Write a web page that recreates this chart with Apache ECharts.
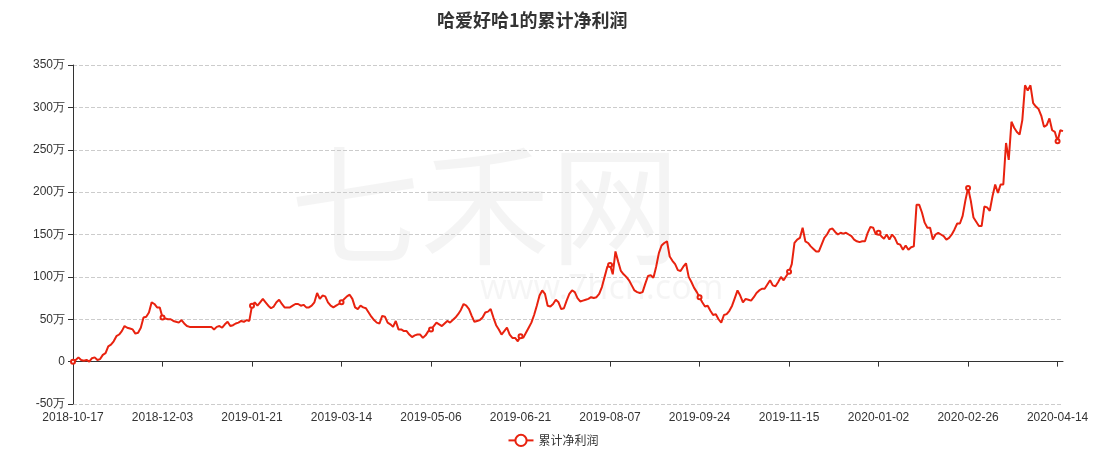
<!DOCTYPE html>
<html><head><meta charset="utf-8">
<script src="https://cdn.jsdelivr.net/npm/echarts@6/dist/echarts.min.js"></script>
<style>html,body{margin:0;padding:0;background:#fff}#c{width:1106px;height:458px}</style>
</head><body><div id="c"></div>
<script>
var startDate = '2018-10-17';
var holidays = ['2018-12-31','2019-01-01','2019-02-04','2019-02-05','2019-02-06','2019-02-07','2019-02-08','2019-04-05','2019-05-01','2019-05-02','2019-05-03','2019-06-07','2019-09-13','2019-10-01','2019-10-02','2019-10-03','2019-10-04','2019-10-07','2020-01-01','2020-01-24','2020-01-27','2020-01-28','2020-01-29','2020-01-30','2020-01-31','2020-04-06'];
var values = [
0,2,5,2,1,2,0,4,5,2,3,8,10,18,20,24,30,32,36,42,40,39,38,33,34,40,52,53,58,70,68,64,64,52,
51,50,50,48,47,46,49,45,42,41,41,41,41,41,41,41,41,41,38,41,42,40,44,47,42,43,45,46,48,47,49,48,66,
70,66,70,74,70,66,63,65,70,73,68,64,64,64,66,68,68,66,67,64,64,66,70,81,74,78,77,70,66,64,66,68,70,
74,77,79,74,64,62,66,64,63,58,53,49,46,45,54,53,46,44,41,48,38,38,36,36,32,29,31,32,32,28,31,36,38,
42,46,44,42,45,48,46,49,52,56,61,68,66,62,54,47,48,49,52,58,59,62,52,43,38,32,36,40,32,28,28,24,30,
28,34,40,46,55,66,78,84,80,66,65,68,73,70,62,63,72,80,84,82,75,71,72,73,74,76,75,76,80,88,100,112,114,
103,130,118,107,103,100,96,90,84,82,81,82,92,101,102,99,112,128,137,140,142,124,119,115,108,107,112,116,100,94,87,82,76,
70,65,66,60,55,56,50,46,55,56,60,66,75,84,78,70,74,73,72,76,81,84,86,86,91,96,90,89,94,100,96,101,106,
115,140,144,146,158,142,140,136,133,130,130,138,146,150,156,157,153,150,152,151,152,150,148,144,142,141,142,142,152,159,158,150,152,
148,145,150,144,150,146,139,138,132,137,132,135,136,185,185,176,164,158,158,144,150,152,150,148,144,146,150,156,163,163,172,190,205,
190,170,165,160,160,183,182,178,195,209,199,209,209,258,238,283,276,271,268,285,326,320,326,305,301,298,290,277,279,287,273,271,260,
273,272
];
function pad(n){return (n<10?'0':'')+n;}
var dates = [];
(function(){
  var d = new Date(startDate+'T00:00:00Z');
  while (dates.length < values.length) {
    var s = d.getUTCFullYear()+'-'+pad(d.getUTCMonth()+1)+'-'+pad(d.getUTCDate());
    var wd = d.getUTCDay();
    if (wd!==0 && wd!==6 && holidays.indexOf(s)<0) dates.push(s);
    d.setUTCDate(d.getUTCDate()+1);
  }
})();
var chart = echarts.init(document.getElementById('c'));
chart.setOption({
  animation:false,
  title:{text:'哈爱好哈1的累计净利润',left:432,top:6,textStyle:{fontSize:18,fontWeight:'bold',color:'#333',fontFamily:'Noto Sans CJK SC'}},
  graphic:[{type:'text',left:290,top:140,style:{text:'七禾网',fontSize:130,fill:'rgba(0,0,0,0.045)',fontFamily:'Noto Sans CJK SC'}},
           {type:'text',left:480,top:272,style:{text:'www.7hcn.com',fontSize:34,fill:'rgba(0,0,0,0.04)',fontFamily:'Noto Sans'}}],
  grid:{left:73,right:43,top:65,bottom:54},
  legend:{bottom:6,data:['累计净利润'],textStyle:{fontSize:12,color:'#333',fontFamily:'Noto Sans CJK SC'},itemWidth:25,itemHeight:14},
  xAxis:{type:'category',data:dates,boundaryGap:false,
    axisLine:{lineStyle:{color:'#333'}},
    axisTick:{show:true,interval:32,alignWithLabel:true},
    axisLabel:{interval:32,color:'#333',fontSize:12}},
  yAxis:{type:'value',min:-50,max:350,interval:50,
    axisLine:{show:true,lineStyle:{color:'#333'}},axisTick:{show:true},
    axisLabel:{color:'#333',fontSize:12,formatter:function(v){return v===0?'0':v+'万';}},
    splitLine:{lineStyle:{type:'dashed',color:'#ccc'}}},
  series:[{name:'累计净利润',type:'line',data:values,symbol:'emptyCircle',symbolSize:4,showSymbol:true,
    itemStyle:{color:'#e8220f',borderWidth:1},lineStyle:{color:'#e8220f',width:2}}]
});
</script></body></html>
